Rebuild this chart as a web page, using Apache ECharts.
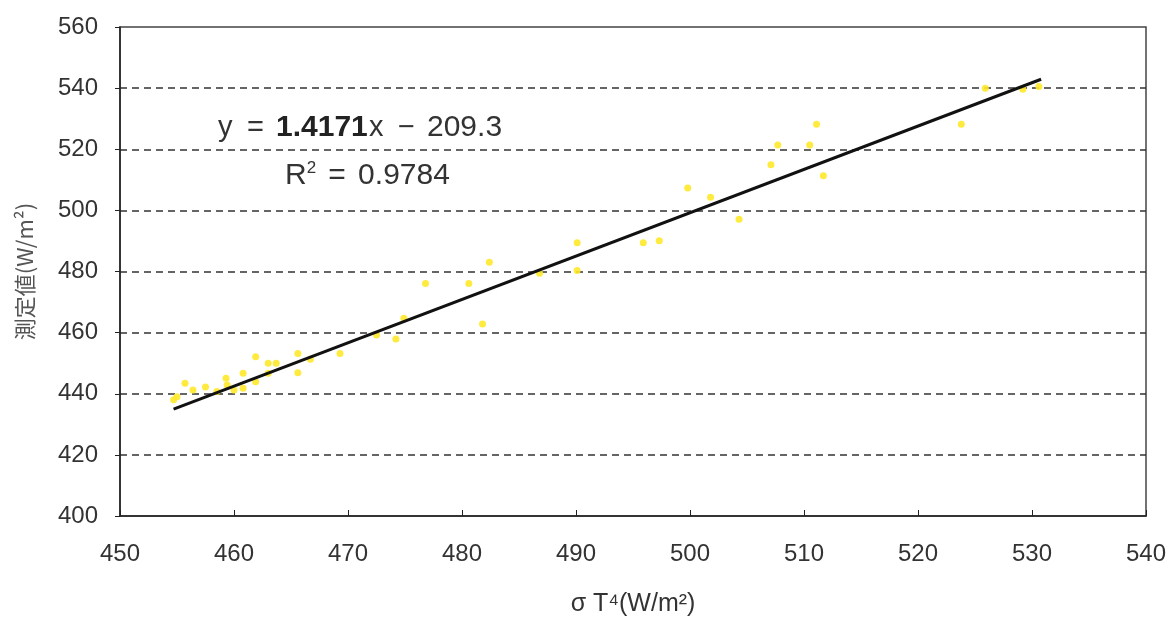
<!DOCTYPE html>
<html><head><meta charset="utf-8">
<script src="https://cdn.jsdelivr.net/npm/echarts@6/dist/echarts.min.js"></script>
<style>html,body{margin:0;padding:0;background:#fff}#c{width:1170px;height:617px}</style>
</head><body><div id="c"></div>
<script>
const pointsX = [454.7,455.0,455.7,456.4,457.5,458.5,459.3,459.4,460.0,460.8,460.8,461.9,461.9,463.0,463.0,463.7,465.6,465.6,466.7,469.3,472.5,474.2,474.9,476.8,480.6,481.8,482.4,486.8,490.1,490.1,495.9,497.3,499.8,501.8,504.3,507.1,507.7,510.5,511.1,511.7,523.8,525.9,529.2,530.6];
const pointsY = [438.0,439.0,443.4,441.2,442.2,440.7,445.1,442.9,441.2,446.7,441.8,452.1,443.9,450.0,446.7,450.0,453.2,446.9,451.3,453.2,459.2,457.9,464.7,476.1,476.1,462.8,483.0,479.4,489.4,480.3,489.4,490.1,507.3,504.3,497.1,514.9,521.4,521.4,528.2,511.3,528.2,540.0,539.6,540.5];
const trendX = [454.7, 530.8];
const trendY = [435.0, 542.9];
const xTicks = [450,460,470,480,490,500,510,520,530,540];
const yTicks = [400,420,440,460,480,500,520,540,560];

const scatterData = pointsX.map((x,i)=>[x,pointsY[i]]);
const trendData = trendX.map((x,i)=>[x,trendY[i]]);
const chart = echarts.init(document.getElementById('c'));
const lblFont = {fontFamily:'Liberation Sans, Arial, sans-serif', fontSize:24, color:'#333'};
const F = 'Liberation Sans, Arial, sans-serif';
chart.setOption({
  animation:false,
  grid:{left:120,right:24,top:27,bottom:101,show:true,borderColor:'#444',borderWidth:1.5,outerBoundsMode:'none',containLabel:false},
  xAxis:{type:'value',min:xTicks[0],max:xTicks[xTicks.length-1],interval:10,
    axisLine:{onZero:false,lineStyle:{color:'#222',width:1.5}},
    axisTick:{inside:true,length:6,lineStyle:{color:'#222'}},
    axisLabel:Object.assign({margin:26},lblFont),
    splitLine:{show:false},
    name:'σ T⁴(W/m²)',nameLocation:'middle',nameGap:76,
    nameTextStyle:{fontFamily:'Liberation Sans, Noto Sans CJK JP, sans-serif',fontSize:25,color:'#333'}},
  yAxis:{type:'value',min:yTicks[0],max:yTicks[yTicks.length-1],interval:20,
    axisLine:{show:true,onZero:false,lineStyle:{color:'#222',width:1.5}},
    axisTick:{show:true,inside:false,length:5,lineStyle:{color:'#222'}},
    axisLabel:Object.assign({margin:22},lblFont),
    splitLine:{show:true,showMaxLine:false,showMinLine:false,lineStyle:{color:'#333',type:[7,5],width:1.5}},
    name:'測定値(W/m²)',nameLocation:'middle',nameGap:84,
    nameTextStyle:{fontFamily:'Noto Sans CJK JP, sans-serif',fontSize:22,color:'#555'}},
  series:[
    {type:'scatter',data:scatterData,symbolSize:7,itemStyle:{color:'#ffe92a',opacity:0.9},z:2},
    {type:'line',data:trendData,symbol:'none',lineStyle:{color:'#111',width:3},z:3}
  ],
  graphic:[
    {type:'text',left:218,top:113,style:{
      text:'{a|y}{a|=}{b|1.4171}{a|x}{a|−}{n|209.3}',
      rich:{a:{fontFamily:F,fontSize:29,fill:'#333',width:29,align:'left'},
            n:{fontFamily:F,fontSize:30,fill:'#333'},
            b:{fontFamily:F,fontSize:30,fontWeight:'bold',fill:'#222',width:93,align:'left'}}}},
    {type:'text',left:285,top:160,style:{
      text:'{n|R}{s|2}{e|=}{n|0.9784}',
      rich:{n:{fontFamily:F,fontSize:30,fill:'#333'},
            e:{fontFamily:F,fontSize:30,fill:'#333',width:42,align:'center'},
            s:{fontFamily:F,fontSize:17,fill:'#333',verticalAlign:'top',padding:[0,0,14,0]}}}}
  ]
});
</script></body></html>
